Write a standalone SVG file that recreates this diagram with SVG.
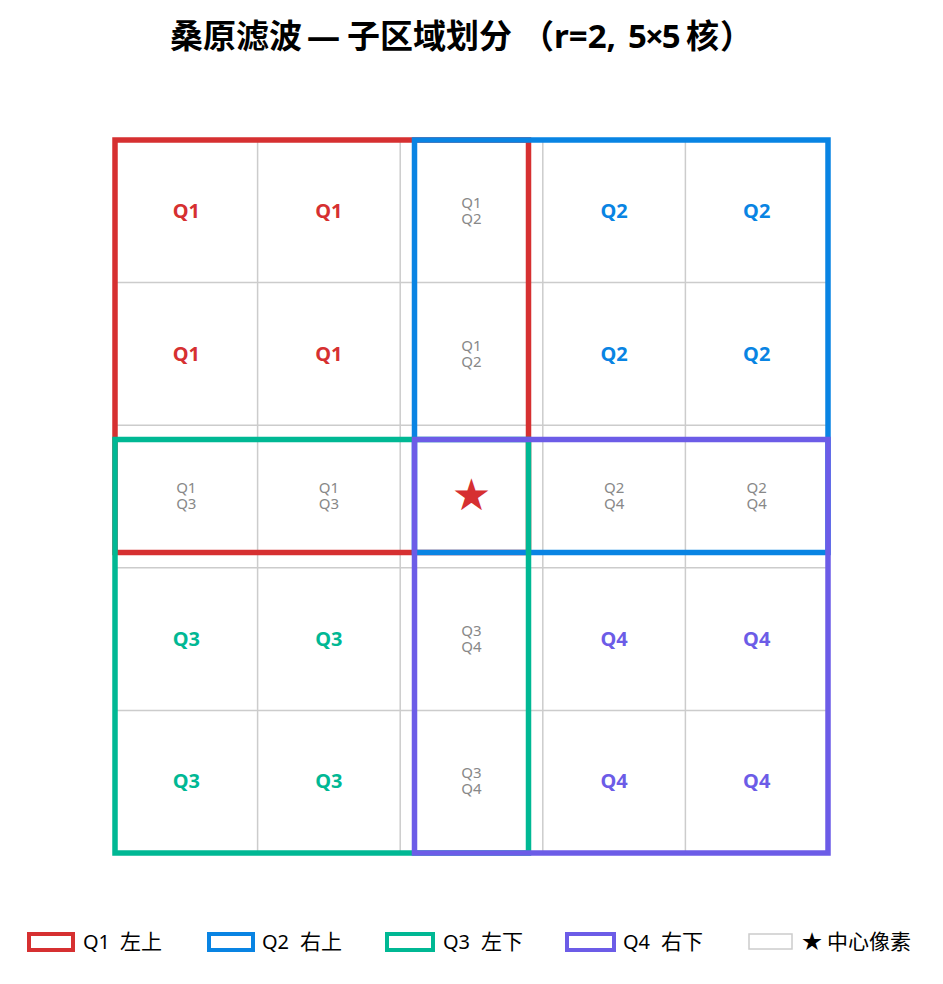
<svg xmlns="http://www.w3.org/2000/svg" width="943" height="984" viewBox="0 0 943 984">
<style>
.title{font-family:"Noto Sans","Noto Sans CJK SC",sans-serif;font-size:33px;font-weight:bold;fill:#000}
.grid{stroke:#cccccc;stroke-width:1.5;fill:none}
.q{fill:none;stroke-width:5.5}
.big{font-family:"Noto Sans","Liberation Sans",sans-serif;font-size:20px;font-weight:bold;text-anchor:middle}
.small{font-family:"Noto Sans","Liberation Sans",sans-serif;font-size:15px;fill:#888888;text-anchor:middle}
.leg{font-family:"Noto Sans","Noto Sans CJK SC",sans-serif;font-size:20px;fill:#000}
.cjk{font-size:21px}
</style>
<rect width="943" height="984" fill="#ffffff"/>
<text class="title" y="48"><tspan x="170">桑原滤波</tspan><tspan x="307">—</tspan><tspan x="347">子区域划分</tspan><tspan x="521">（</tspan><tspan x="554">r=2,</tspan><tspan x="628" style="letter-spacing:-2px">5×5</tspan><tspan x="686">核</tspan><tspan x="720">）</tspan></text>
<g id="grid">
<rect class="grid" x="115" y="140" width="713" height="713"/>
<path class="grid" d="M257.6 140V853M400.2 140V853M542.8 140V853M685.4 140V853M115 282.6H828M115 425.2H828M115 567.8H828M115 710.4H828"/>
</g>
<g id="connectors">
<rect id="Q1-region" class="q" style="stroke:#d63031" x="115" y="140" width="413.5" height="412.5"/>
<rect id="Q2-region" class="q" style="stroke:#0984e3" x="414.5" y="140" width="413.5" height="412.5"/>
<rect id="Q3-region" class="q" style="stroke:#00b894" x="115" y="439.5" width="413.5" height="413.5"/>
<rect id="Q4-region" class="q" style="stroke:#6c5ce7" x="414.5" y="439.5" width="413.5" height="413.5"/>
</g>
<g id="cells">
<g id="c00"><text class="big" style="fill:#d63031" x="186.3" y="218">Q1</text></g>
<g id="c01"><text class="big" style="fill:#d63031" x="328.9" y="218">Q1</text></g>
<g id="c02"><text class="small" x="471.5" y="208">Q1</text><text class="small" x="471.5" y="224">Q2</text></g>
<g id="c03"><text class="big" style="fill:#0984e3" x="614.1" y="218">Q2</text></g>
<g id="c04"><text class="big" style="fill:#0984e3" x="756.7" y="218">Q2</text></g>
<g id="c10"><text class="big" style="fill:#d63031" x="186.3" y="360.6">Q1</text></g>
<g id="c11"><text class="big" style="fill:#d63031" x="328.9" y="360.6">Q1</text></g>
<g id="c12"><text class="small" x="471.5" y="350.6">Q1</text><text class="small" x="471.5" y="366.6">Q2</text></g>
<g id="c13"><text class="big" style="fill:#0984e3" x="614.1" y="360.6">Q2</text></g>
<g id="c14"><text class="big" style="fill:#0984e3" x="756.7" y="360.6">Q2</text></g>
<g id="c20"><text class="small" x="186.3" y="493.2">Q1</text><text class="small" x="186.3" y="509.2">Q3</text></g>
<g id="c21"><text class="small" x="328.9" y="493.2">Q1</text><text class="small" x="328.9" y="509.2">Q3</text></g>
<g id="c22"><text x="471.5" y="510" style="font-family:'DejaVu Sans',sans-serif;font-size:44px;fill:#d63031;text-anchor:middle">★</text></g>
<g id="c23"><text class="small" x="614.1" y="493.2">Q2</text><text class="small" x="614.1" y="509.2">Q4</text></g>
<g id="c24"><text class="small" x="756.7" y="493.2">Q2</text><text class="small" x="756.7" y="509.2">Q4</text></g>
<g id="c30"><text class="big" style="fill:#00b894" x="186.3" y="645.6">Q3</text></g>
<g id="c31"><text class="big" style="fill:#00b894" x="328.9" y="645.6">Q3</text></g>
<g id="c32"><text class="small" x="471.5" y="635.8">Q3</text><text class="small" x="471.5" y="651.8">Q4</text></g>
<g id="c33"><text class="big" style="fill:#6c5ce7" x="614.1" y="645.6">Q4</text></g>
<g id="c34"><text class="big" style="fill:#6c5ce7" x="756.7" y="645.6">Q4</text></g>
<g id="c40"><text class="big" style="fill:#00b894" x="186.3" y="788.2">Q3</text></g>
<g id="c41"><text class="big" style="fill:#00b894" x="328.9" y="788.2">Q3</text></g>
<g id="c42"><text class="small" x="471.5" y="778.4">Q3</text><text class="small" x="471.5" y="794.4">Q4</text></g>
<g id="c43"><text class="big" style="fill:#6c5ce7" x="614.1" y="788.2">Q4</text></g>
<g id="c44"><text class="big" style="fill:#6c5ce7" x="756.7" y="788.2">Q4</text></g>
</g>
<g id="legend">
<g id="leg-q1"><rect x="29" y="934" width="44" height="16" fill="#fff" stroke="#d63031" stroke-width="4"/><text class="leg" x="83" y="949">Q1<tspan class="cjk" x="120">左上</tspan></text></g>
<g id="leg-q2"><rect x="209" y="934" width="44" height="16" fill="#fff" stroke="#0984e3" stroke-width="4"/><text class="leg" x="262" y="949">Q2<tspan class="cjk" x="300">右上</tspan></text></g>
<g id="leg-q3"><rect x="387" y="934" width="46" height="16" fill="#fff" stroke="#00b894" stroke-width="4"/><text class="leg" x="443" y="949">Q3<tspan class="cjk" x="481">左下</tspan></text></g>
<g id="leg-q4"><rect x="567" y="934" width="47" height="16" fill="#fff" stroke="#6c5ce7" stroke-width="4"/><text class="leg" x="623" y="949">Q4<tspan class="cjk" x="661">右下</tspan></text></g>
<g id="leg-center"><rect x="749" y="934" width="43" height="15" fill="#fff" stroke="#cccccc" stroke-width="1.5"/><text class="leg" x="802" y="949">★<tspan class="cjk" x="827">中心像素</tspan></text></g>
</g>
</svg>
